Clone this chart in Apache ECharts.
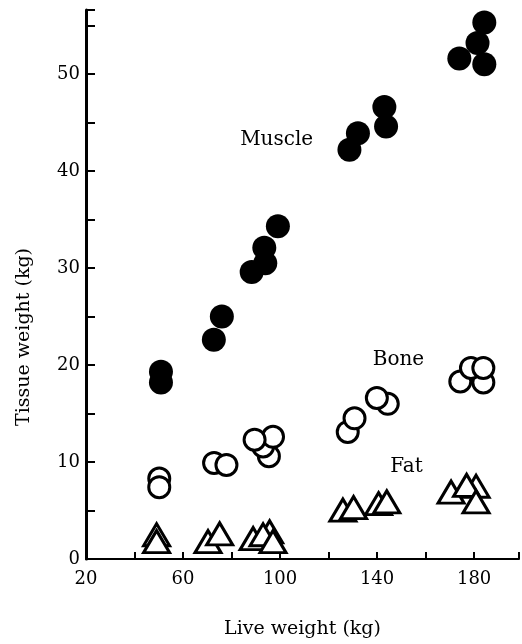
<!DOCTYPE html>
<html>
<head>
<meta charset="utf-8">
<script src="https://cdn.jsdelivr.net/npm/echarts@6/dist/echarts.min.js"></script>
<style>html,body{margin:0;padding:0;background:#fff}#c{width:522px;height:644px}</style>
</head>
<body>
<div id="c"></div>
<script>
// Live weight (kg), tissue weight (kg)
var muscle = [[50.9,19.3],[50.9,18.2],[72.7,22.6],[76,25.0],[88.3,29.6],[93.9,30.5],[93.5,32.1],[99.1,34.3],
  [128.6,42.2],[132.1,43.9],[143.7,44.6],[143,46.6],[173.9,51.6],[181.4,53.2],[184.2,55.3],[184.2,51.0]];
var bone = [[50.2,8.3],[50.2,7.4],[72.8,9.9],[77.9,9.7],[95.4,10.6],[93,11.6],[97.1,12.6],[89.5,12.3],
  [127.9,13.1],[130.7,14.5],[144.4,16.0],[139.9,16.6],[174.3,18.3],[183.8,18.2],[178.7,19.7],[183.8,19.7]];
var fat = [[49.1,2.5],[49.1,1.8],[70.3,1.8],[75.1,2.6],[88.9,2.1],[95.7,2.8],[93,2.5],[97.1,1.8],
  [125.9,5.05],[130.3,5.3],[140.6,5.7],[144,5.9],[170.5,6.9],[180.8,7.5],[176.9,7.6],[180.8,5.9]];
var seriesNames = ['Muscle','Bone','Fat'];
var labelPos = [[98.6,43.2],[148.8,20.5],[152.1,9.5]];
var xLabels = [20,60,100,140,180];
var yLabels = [0,10,20,30,40,50];

var font = 'DejaVu Serif';
var chart = echarts.init(document.getElementById('c'), null, {renderer:'canvas'});
var ann = seriesNames.map(function(n,i){ return {value: labelPos[i], name: n}; });
chart.setOption({
  animation:false,
  backgroundColor:'#fff',
  grid:{left:86,right:2,top:10,bottom:85},
  xAxis:{type:'value',min:20,max:198.5,interval:20,
    name:'Live weight (kg)',nameLocation:'middle',nameGap:61,
    nameTextStyle:{fontFamily:font,fontSize:19,color:'#000'},
    axisLine:{onZero:false,lineStyle:{color:'#000',width:2}},
    axisTick:{inside:true,length:7,lineStyle:{color:'#000',width:2}},
    axisLabel:{margin:11,fontFamily:font,fontSize:18,color:'#000',
      formatter:function(v){return xLabels.indexOf(v)>=0?String(v):'';}},
    splitLine:{show:false}},
  yAxis:{type:'value',min:0,max:56.6,interval:5,
    name:'Tissue weight (kg)',nameLocation:'middle',nameGap:52,
    nameTextStyle:{fontFamily:font,fontSize:19,color:'#000',padding:[0,105,0,0]},
    axisLine:{onZero:false,lineStyle:{color:'#000',width:3}},
    axisTick:{inside:true,length:9,lineStyle:{color:'#000',width:2}},
    axisLabel:{margin:6,fontFamily:font,fontSize:18,color:'#000',
      formatter:function(v){return yLabels.indexOf(v)>=0?String(v):'';}},
    splitLine:{show:false}},
  series:[
    {name:seriesNames[0],type:'scatter',data:muscle,symbol:'circle',symbolSize:24,
      itemStyle:{color:'#000',opacity:1}},
    {name:seriesNames[1],type:'scatter',data:bone,symbol:'circle',symbolSize:21,
      itemStyle:{color:'#fff',borderColor:'#000',borderWidth:3,opacity:1}},
    {name:seriesNames[2],type:'scatter',data:fat,symbol:'triangle',symbolSize:[26,22],
      itemStyle:{color:'#fff',borderColor:'#000',borderWidth:3,opacity:1}},
    {type:'scatter',data:ann,symbolSize:0,silent:true,itemStyle:{opacity:1},
      label:{show:true,position:'inside',formatter:'{b}',fontFamily:font,fontSize:20,color:'#000',opacity:1}}
  ]
});
</script>
</body>
</html>
